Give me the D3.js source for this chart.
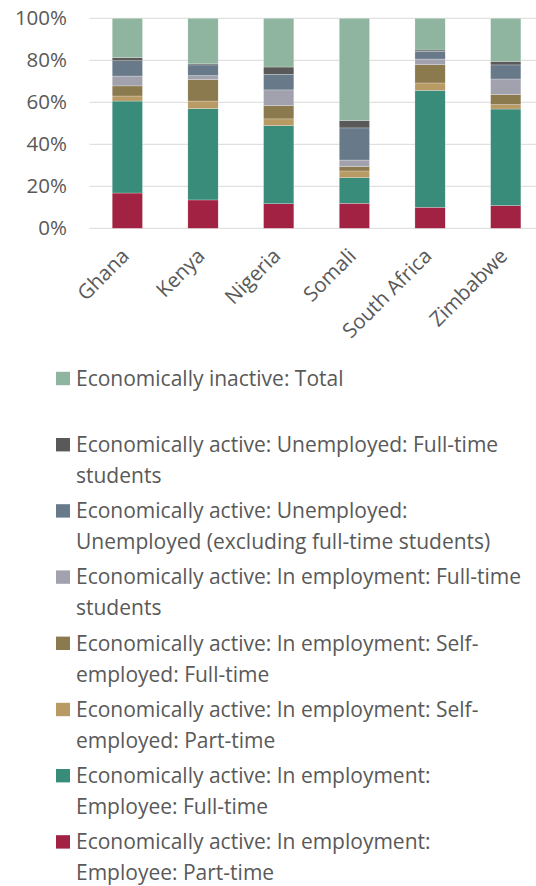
<!DOCTYPE html>
<html><head><meta charset="utf-8">
<script src="https://cdn.jsdelivr.net/npm/d3@7/dist/d3.min.js"></script>
<style>body{margin:0;background:#fff;}svg{display:block;font-family:"Open Sans",sans-serif;}</style>
</head><body><svg id="c" width="536" height="886"></svg>
<script>
const categories = ["Ghana","Kenya","Nigeria","Somali","South Africa","Zimbabwe"];
const seriesNames = [
  "Economically active: In employment: Employee: Part-time",
  "Economically active: In employment: Employee: Full-time",
  "Economically active: In employment: Self-employed: Part-time",
  "Economically active: In employment: Self-employed: Full-time",
  "Economically active: In employment: Full-time students",
  "Economically active: Unemployed: Unemployed (excluding full-time students)",
  "Economically active: Unemployed: Full-time students",
  "Economically inactive: Total"
];
const empPartTime   = [16.8, 13.5, 11.7, 11.9, 10.0, 10.8];
const empFullTime   = [43.8, 43.5, 37.2, 12.2, 55.7, 46.0];
const selfPartTime  = [2.4, 3.6, 3.2, 3.2, 3.5, 2.1];
const selfFullTime  = [4.8, 10.2, 6.3, 2.1, 8.7, 4.8];
const empStudents   = [4.7, 1.9, 7.5, 3.1, 2.7, 7.4];
const unemployed    = [7.3, 5.1, 7.4, 15.3, 3.7, 6.7];
const unempStudents = [1.5, 0.5, 3.5, 3.5, 0.6, 1.7];
const inactive      = [18.7, 21.7, 23.2, 48.7, 15.1, 20.5];
const seriesValues = [empPartTime, empFullTime, selfPartTime, selfFullTime, empStudents, unemployed, unempStudents, inactive];
const colors = ["#a12242","#3a8c7a","#b89a64","#8b7a4e","#a2a2ae","#687a8a","#595959","#8fb5a0"];
const yTicks = [0,20,40,60,80,100];
const legendLines = [
  ["Economically inactive: Total"],
  ["Economically active: Unemployed: Full-time","students"],
  ["Economically active: Unemployed:","Unemployed (excluding full-time students)"],
  ["Economically active: In employment: Full-time","students"],
  ["Economically active: In employment: Self-","employed: Full-time"],
  ["Economically active: In employment: Self-","employed: Part-time"],
  ["Economically active: In employment:","Employee: Full-time"],
  ["Economically active: In employment:","Employee: Part-time"]
];

const svg = d3.select("#c");
const pLeft = 89.5, pRight = 543.6, pTop = 18.3, pBottom = 228.3;
const x = d3.scaleBand().domain(categories).range([pLeft, pRight]).paddingInner(0.6).paddingOuter(0.3);
const y = d3.scaleLinear().domain([0,100]).range([pBottom, pTop]);

svg.append("g").selectAll("line").data(yTicks).join("line")
  .attr("x1", pLeft).attr("x2", pRight)
  .attr("y1", d=>y(d)).attr("y2", d=>y(d))
  .attr("stroke", "#d9d9d9").attr("stroke-width", 1);

const yAxis = d3.axisLeft(y).tickValues(yTicks).tickFormat(d=>d+"%").tickSize(0).tickPadding(0);
const ya = svg.append("g").attr("transform", `translate(67,0)`).call(yAxis);
ya.select(".domain").remove();
ya.selectAll("text").attr("font-size", 20.5).attr("fill", "#595959").attr("font-family","Open Sans");

const rows = categories.map((c,i)=>{ const r={cat:c}; seriesValues.forEach((s,j)=>r["s"+j]=s[i]); return r;});
const stack = d3.stack().keys(seriesValues.map((s,j)=>"s"+j))(rows);
svg.append("g").selectAll("g").data(stack).join("g")
  .attr("fill", (d,i)=>colors[i])
  .selectAll("rect").data(d=>d).join("rect")
  .attr("x", d=>x(d.data.cat)).attr("width", x.bandwidth())
  .attr("y", d=>y(d[1])).attr("height", d=>y(d[0])-y(d[1]))
  .attr("stroke","#ffffff").attr("stroke-width",0.4).attr("stroke-opacity",0.6);

const xAxis = d3.axisBottom(x).tickSize(0).tickPadding(0);
const xa = svg.append("g").attr("transform", `translate(0,${pBottom})`).call(xAxis);
xa.select(".domain").remove();
xa.selectAll("text")
  .attr("font-size", 20.5).attr("fill", "#595959").attr("font-family","Open Sans")
  .attr("text-anchor","end").attr("dy", null).attr("y", 0)
  .attr("transform", "translate(3,29) rotate(-45)");

const legStart = 378.5, legStep = 66.2, lineH = 31;
const lg = svg.append("g");
legendLines.forEach((lines, i)=>{
  const yc = legStart + i*legStep;
  lg.append("rect").attr("x",56).attr("y",yc-6.7).attr("width",14).attr("height",13.4)
    .attr("fill", colors[colors.length-1-i]);
  lines.forEach((t,k)=>{
    lg.append("text").attr("x",76).attr("y",yc+k*lineH + 7.2)
      .attr("font-size",21).attr("fill","#595959").text(t);
  });
});
</script></body></html>
